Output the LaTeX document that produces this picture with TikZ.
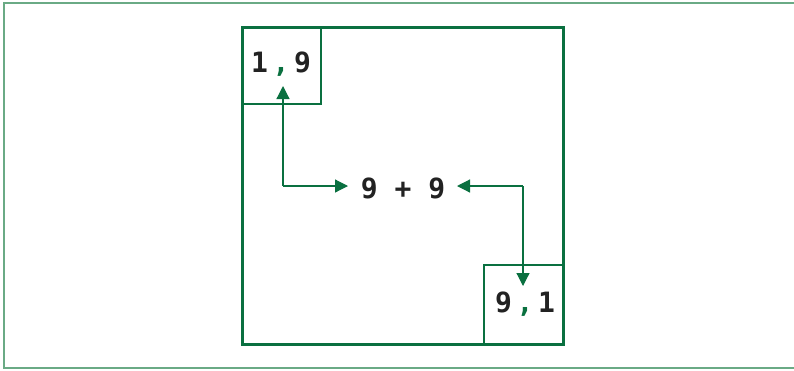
\documentclass[tikz,border=0pt]{standalone}
\usepackage{fontspec}
\setmonofont{DejaVu Sans Mono}
\usetikzlibrary{arrows.meta}
\definecolor{dgreen}{HTML}{0A7040}
\definecolor{lgreen}{HTML}{6AAA85}
\definecolor{txt}{HTML}{222222}
\begin{document}
\begin{tikzpicture}[x=1pt,y=-1pt,
  lbl/.style={font=\ttfamily\bfseries\fontsize{28}{28}\selectfont, text=txt, inner sep=0pt},
  conn/.style={draw=dgreen, line width=1.2pt, -{Triangle[length=13pt,width=13pt]}},
  thinbox/.style={draw=dgreen, line width=1.2pt},
  mainbox/.style={draw=dgreen, line width=3pt},
]
\useasboundingbox (0,0) rectangle (794,370);
\draw[lgreen, line width=2pt] (794,2.5) -- (3.5,2.5) -- (3.5,368) -- (794,368);
\coordinate (mnw) at (242,27);
\coordinate (mse) at (563,344);
\draw[thinbox] (mnw) rectangle (321,104);
\draw[thinbox] (484,265) rectangle (mse);
\draw[mainbox] (mnw) rectangle (mse);
\node[lbl] (a) at (281,64) {1\,\textcolor{dgreen}{,}\,9};
\node[lbl] (b) at (403,188) {9 + 9};
\node[lbl] (c) at (525,304) {9\,\textcolor{dgreen}{,}\,1};
\coordinate (ta) at (283,86);
\coordinate (tb) at (523,286);
\coordinate (la) at (348,186);
\coordinate (rb) at (457,186);
\draw[conn] (283,186) -- (ta);
\draw[conn] (283,186) -- (la);
\draw[conn] (523,186) -- (rb);
\draw[conn] (523,186) -- (tb);
\end{tikzpicture}
\end{document}
